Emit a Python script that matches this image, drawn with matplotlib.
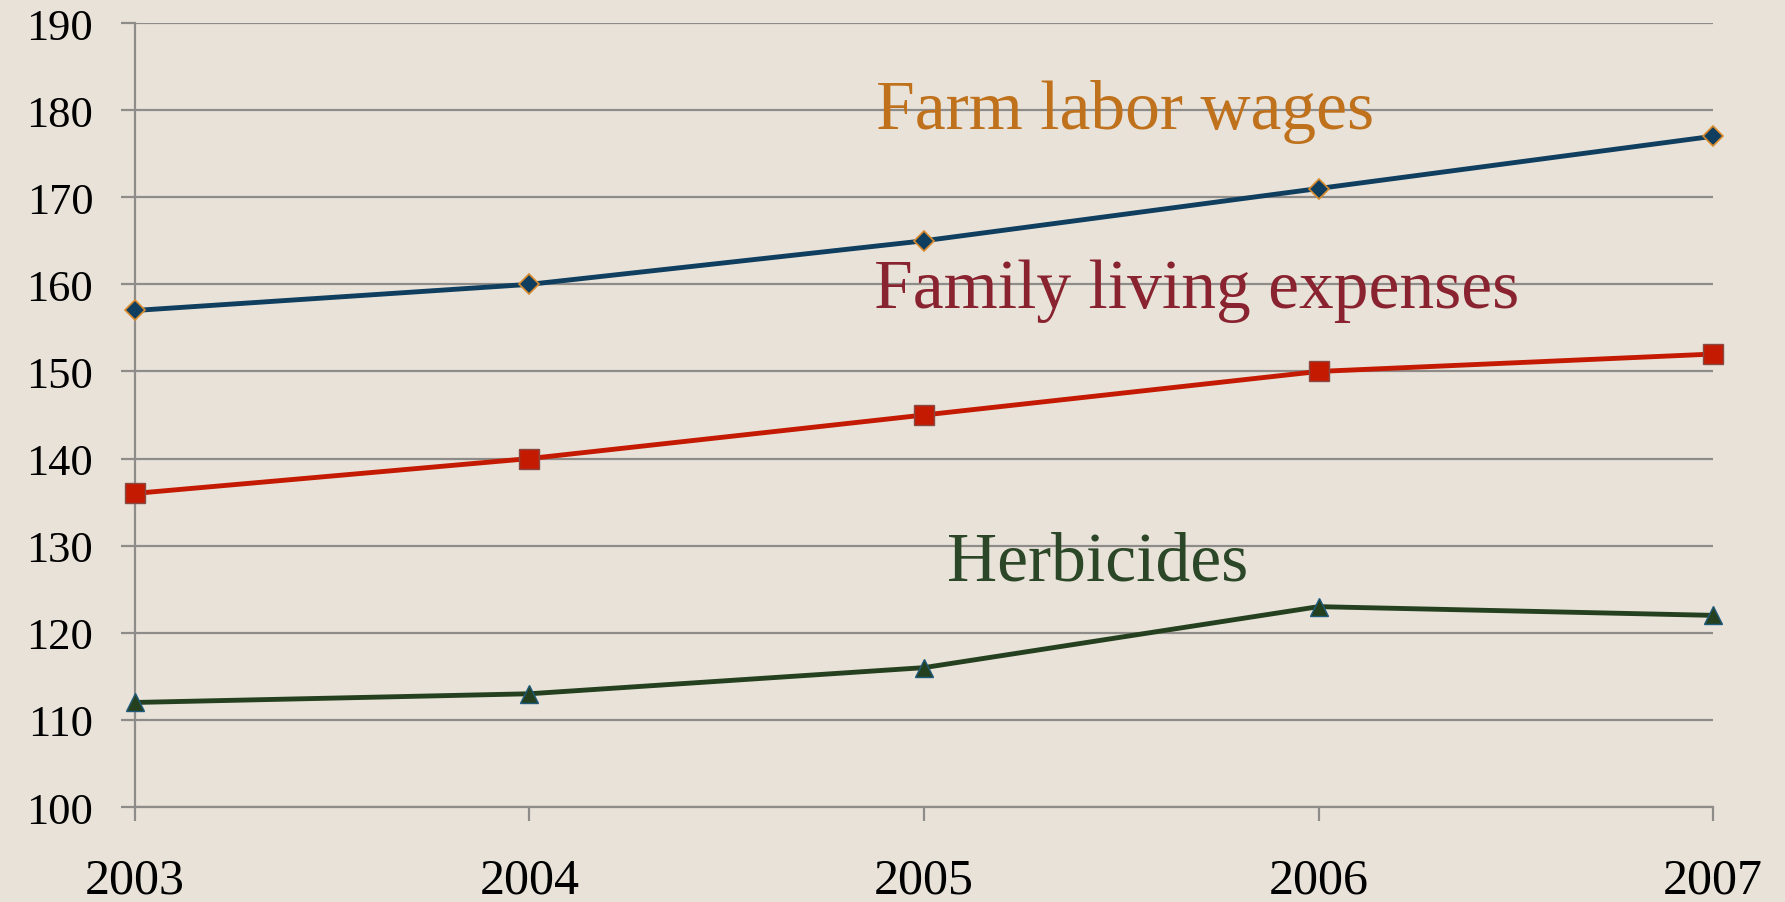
import matplotlib
matplotlib.use("Agg")
import matplotlib.pyplot as plt

# data
years = [2003, 2004, 2005, 2006, 2007]
farm_wages = [157, 160, 165, 171, 177]
family_living = [136, 140, 145, 150, 152]
herbicides = [112, 113, 116, 123, 122]
y_ticks = list(range(100, 191, 10))

BG = "#E8E2D9"
GRID = "#8E8C88"
plt.rcParams["font.family"] = ["Liberation Serif", "DejaVu Serif"]

fig = plt.figure(figsize=(17.85, 9.03), dpi=100, facecolor=BG)
ax = fig.add_axes([0.0756, 0.1052, 0.8841, 0.8682], facecolor=BG)

ax.plot(years, farm_wages, color="#0F3E5E", lw=3.5, marker="D", ms=10,
        mfc="#0F3E5E", mec="#D98A2B", mew=1.2, zorder=3, clip_on=False)
ax.plot(years, family_living, color="#C41A02", lw=3.5, marker="s", ms=14,
        mfc="#C41A02", mec="#8A4A44", mew=1, zorder=3, clip_on=False)
ax.plot(years, herbicides, color="#25401F", lw=3.5, marker="^", ms=13,
        mfc="#25401F", mec="#1F5A7A", mew=1, zorder=3, clip_on=False)

ax.set_xlim(2003, 2007)
ax.set_ylim(100, 190)
ax.set_xticks(years)
ax.set_xticklabels([str(y) for y in years])
ax.set_yticks(y_ticks)
ax.grid(axis="y", color=GRID, lw=1.6, zorder=1)

for s in ["top", "right", "bottom"]:
    ax.spines[s].set_visible(False)
ax.spines["left"].set_color(GRID)
ax.spines["left"].set_linewidth(1.6)
ax.spines["left"].set_bounds(100, 190)

ax.tick_params(axis="y", length=10, width=1.6, color=GRID, pad=20,
               labelsize=32, labelcolor="black")
ax.tick_params(axis="x", length=10, width=1.6, color=GRID, pad=26,
               labelsize=36, labelcolor="black")
ax.axhline(100, color=GRID, lw=1.6, zorder=1, clip_on=False)

ax.text(2005.51, 178, "Farm labor wages", color="#C0711C", fontsize=50,
        ha="center", va="baseline")
ax.text(2005.69, 157.4, "Family living expenses", color="#8A2330", fontsize=50,
        ha="center", va="baseline")
ax.text(2005.44, 126.1, "Herbicides", color="#2C4727", fontsize=50,
        ha="center", va="baseline")

fig.savefig("out.png", dpi=100, facecolor=BG)
